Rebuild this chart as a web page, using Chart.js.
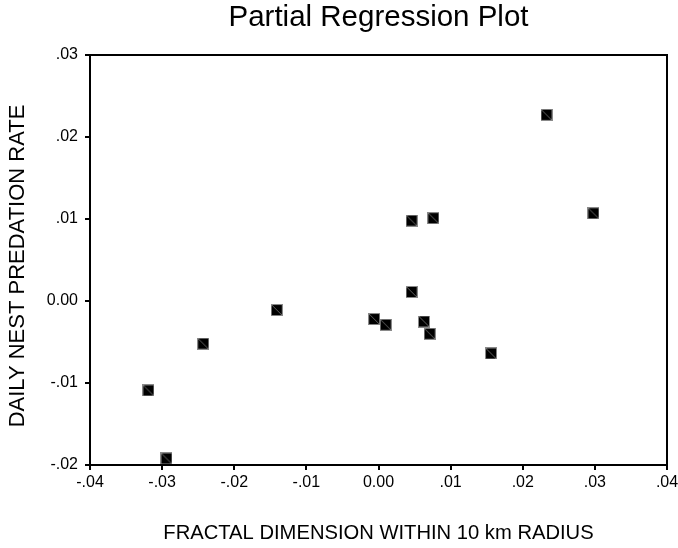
<!DOCTYPE html>
<html>
<head>
<meta charset="utf-8">
<script src="https://cdn.jsdelivr.net/npm/chart.js@4/dist/chart.umd.min.js"></script>
<style>
  html, body { margin: 0; padding: 0; background: #fff; }
  canvas { display: block; }
</style>
</head>
<body>
<canvas id="c" width="678" height="548"></canvas>
<script>
// ---- Data ----
const xValues = [-0.0319, -0.0243, -0.0294, -0.0141, 0.0046, 0.0076, 0.0046, -0.0006, 0.0010, 0.0063, 0.0071, 0.0156, 0.0233, 0.0298];
const yValues = [-0.0109, -0.0052, -0.0192, -0.0011, 0.0098, 0.0101, 0.0011, -0.0022, -0.0029, -0.0025, -0.0040, -0.0064, 0.0227, 0.0107];

const xTickValues = [-0.04, -0.03, -0.02, -0.01, 0, 0.01, 0.02, 0.03, 0.04];
const xTickLabels = ['-.04', '-.03', '-.02', '-.01', '0.00', '.01', '.02', '.03', '.04'];
const yTickValues = [-0.02, -0.01, 0, 0.01, 0.02, 0.03];
const yTickLabels = ['-.02', '-.01', '0.00', '.01', '.02', '.03'];

const chartTitle = 'Partial Regression Plot';
const xTitle = 'FRACTAL DIMENSION WITHIN 10 km RADIUS';
const yTitle = 'DAILY NEST PREDATION RATE';

// ---- Marker: black square with grey edge and diagonal ----
function makeMarker() {
  const s = 12;
  const cv = document.createElement('canvas');
  cv.width = s; cv.height = s;
  const g = cv.getContext('2d');
  g.fillStyle = '#000';
  g.fillRect(0, 0, s, s);
  g.strokeStyle = '#8a8a8a';
  g.lineWidth = 1;
  g.strokeRect(0.5, 0.5, s - 1, s - 1);
  g.strokeStyle = '#606060';
  g.beginPath();
  g.moveTo(1, 1);
  g.lineTo(s - 1, s - 1);
  g.stroke();
  return cv;
}

const FONT = "'Liberation Sans', Arial, Helvetica, sans-serif";

// Frame around the plot plus chart title and y title positioned like the original
const framePlugin = {
  id: 'frame',
  afterDraw(chart) {
    const a = chart.chartArea;
    const ctx = chart.ctx;
    ctx.save();
    ctx.strokeStyle = '#000';
    ctx.lineWidth = 2;
    ctx.strokeRect(a.left, a.top, a.right - a.left, a.bottom - a.top);

    ctx.fillStyle = '#000';
    ctx.textAlign = 'center';
    ctx.textBaseline = 'middle';
    ctx.font = '29.5px ' + FONT;
    ctx.fillText(chartTitle, (a.left + a.right) / 2, 18);

    ctx.translate(17.5, 266);
    ctx.rotate(-Math.PI / 2);
    ctx.font = '22px ' + FONT;
    ctx.fillText(yTitle, 0, 0);
    ctx.restore();
  }
};

const points = xValues.map((x, i) => ({ x: x, y: yValues[i] }));

new Chart(document.getElementById('c'), {
  type: 'scatter',
  data: {
    datasets: [{
      data: points,
      pointStyle: makeMarker(),
      pointRadius: 6,
      pointHoverRadius: 6,
      clip: false
    }]
  },
  options: {
    responsive: false,
    animation: false,
    devicePixelRatio: 1,
    layout: { padding: { left: 0, right: 11, top: 55, bottom: 0 } },
    plugins: {
      legend: { display: false },
      tooltip: { enabled: false },
      title: { display: false }
    },
    scales: {
      x: {
        type: 'linear',
        min: -0.04,
        max: 0.04,
        afterBuildTicks(scale) { scale.ticks = xTickValues.map(v => ({ value: v })); },
        afterFit(scale) { scale.height = 83; scale.paddingLeft = 0; scale.paddingRight = 0; },
        ticks: {
          color: '#000',
          font: { family: FONT, size: 16 },
          padding: 3,
          maxRotation: 0,
          autoSkip: false,
          callback: (v, i) => xTickLabels[i]
        },
        grid: { drawOnChartArea: false, drawTicks: true, tickLength: 5, color: '#000', lineWidth: 2 },
        border: { display: true, color: '#000', width: 2 },
        title: {
          display: true,
          text: xTitle,
          color: '#000',
          font: { family: FONT, size: 20.2, lineHeight: 1.2 },
          padding: { top: 0, bottom: 2 }
        }
      },
      y: {
        type: 'linear',
        min: -0.02,
        max: 0.03,
        afterBuildTicks(scale) { scale.ticks = yTickValues.map(v => ({ value: v })); },
        afterFit(scale) { scale.width = 90; scale.paddingTop = 0; scale.paddingBottom = 0; },
        ticks: {
          color: '#000',
          font: { family: FONT, size: 16 },
          padding: 7,
          autoSkip: false,
          callback: (v, i) => yTickLabels[i]
        },
        grid: { drawOnChartArea: false, drawTicks: true, tickLength: 5, color: '#000', lineWidth: 2 },
        border: { display: true, color: '#000', width: 2 }
      }
    }
  },
  plugins: [framePlugin]
});
</script>
</body>
</html>
